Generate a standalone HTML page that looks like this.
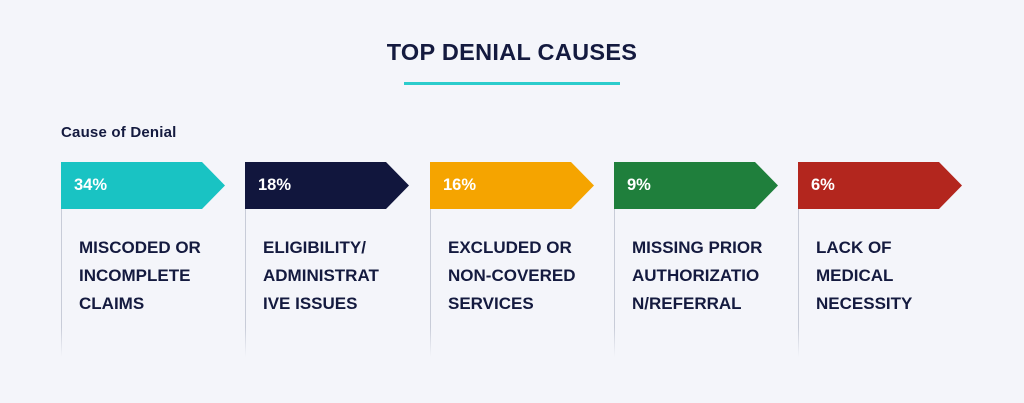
<!DOCTYPE html>
<html><head><style>
body{margin:0;width:1024px;height:403px;background:#f4f5fa;font-family:"Liberation Sans",sans-serif;position:relative;overflow:hidden;color:#141a3f}
.t{position:absolute;left:0;width:1024px;top:39px;text-align:center;font-size:23.5px;font-weight:bold;letter-spacing:0.3px}
.u{position:absolute;left:404px;top:82px;width:216px;height:3px;background:#2ccccc}
.c{position:absolute;left:61px;top:124px;font-size:15px;font-weight:bold;letter-spacing:0.2px}
.card{position:absolute;top:162px;width:170px;height:195px}
.card svg{position:absolute;left:0;top:0}
.line{position:absolute;left:0;top:47px;width:1px;height:148px;background:linear-gradient(#c8ccd8,#c8ccd8 80%,rgba(200,204,216,0))}
.p{position:absolute;left:13px;top:14px;color:#fff;font-weight:bold;font-size:16.5px}
.l{position:absolute;left:18px;top:72px;font-weight:bold;font-size:17px;line-height:28px;white-space:nowrap}
</style></head><body>
<div class="t">TOP DENIAL CAUSES</div>
<div class="u"></div>
<div class="c">Cause of Denial</div>

<div class="card" style="left:61px"><svg width="170" height="48"><polygon points="0,0 141,0 164,23.5 141,47 0,47" fill="#19c3c3"/></svg><div class="line"></div><div class="p">34%</div><div class="l">MISCODED OR<br>INCOMPLETE<br>CLAIMS</div></div>
<div class="card" style="left:245px"><svg width="170" height="48"><polygon points="0,0 141,0 164,23.5 141,47 0,47" fill="#11163d"/></svg><div class="line"></div><div class="p">18%</div><div class="l">ELIGIBILITY/<br>ADMINISTRAT<br>IVE ISSUES</div></div>
<div class="card" style="left:430px"><svg width="170" height="48"><polygon points="0,0 141,0 164,23.5 141,47 0,47" fill="#f5a400"/></svg><div class="line"></div><div class="p">16%</div><div class="l">EXCLUDED OR<br>NON-COVERED<br>SERVICES</div></div>
<div class="card" style="left:614px"><svg width="170" height="48"><polygon points="0,0 141,0 164,23.5 141,47 0,47" fill="#1f7f3c"/></svg><div class="line"></div><div class="p">9%</div><div class="l">MISSING PRIOR<br>AUTHORIZATIO<br>N/REFERRAL</div></div>
<div class="card" style="left:798px"><svg width="170" height="48"><polygon points="0,0 141,0 164,23.5 141,47 0,47" fill="#b3261e"/></svg><div class="line"></div><div class="p">6%</div><div class="l">LACK OF<br>MEDICAL<br>NECESSITY</div></div>
</body></html>
